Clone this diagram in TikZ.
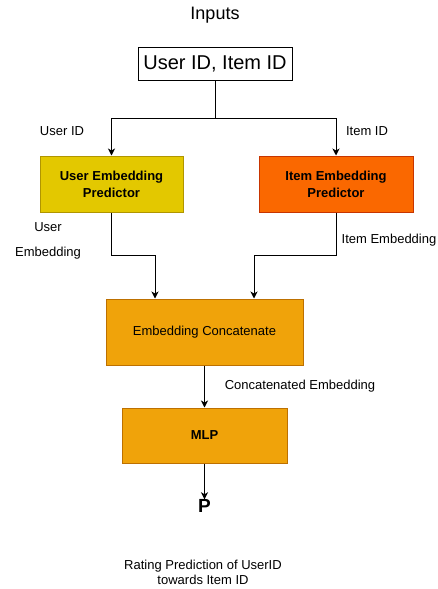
\documentclass[tikz,border=0pt]{standalone}
\usepackage{fontspec}
\setmainfont{Liberation Sans}
\usetikzlibrary{arrows.meta}
\usetikzlibrary{positioning}

\definecolor{userfill}{HTML}{E3C800}
\definecolor{userline}{HTML}{B09500}
\definecolor{itemfill}{HTML}{FA6800}
\definecolor{itemline}{HTML}{C73500}
\definecolor{mlpfill}{HTML}{F0A30A}
\definecolor{mlpline}{HTML}{BD7000}

\begin{document}
\begin{tikzpicture}[x=1pt,y=-1pt,
  box/.style={draw,line width=1pt,inner sep=0pt,align=center,font=\fontsize{13}{17}\selectfont\bfseries},
  lbl/.style={inner sep=0pt,align=center,font=\fontsize{13}{16}\selectfont},
  conn/.style={-{Stealth[length=7pt,width=7pt,inset=2pt]},line width=1pt}]
\useasboundingbox (0,0) rectangle (438,589);

\node[lbl,font=\fontsize{18}{20}\selectfont] (title) at (215,15) {Inputs};
\node[box,font=\fontsize{20}{22}\selectfont,minimum width=154pt,minimum height=33pt] (ids) at (215,63.5) {User ID, Item ID};

\node[box,fill=userfill,draw=userline,minimum width=143pt,minimum height=56pt] (userpred) at (111.5,184) {User Embedding\\Predictor};
\node[box,fill=itemfill,draw=itemline,minimum width=154pt,minimum height=56pt] (itempred) at (336,184) {Item Embedding\\Predictor};
\node[box,fill=mlpfill,draw=mlpline,font=\fontsize{13}{17}\selectfont,minimum width=197pt,minimum height=66pt] (concat) at (204.5,332) {Embedding Concatenate};
\node[box,fill=mlpfill,draw=mlpline,minimum width=165pt,minimum height=55pt] (mlp) at (204.5,435.5) {MLP};
\node[lbl,font=\fontsize{19}{20}\selectfont\bfseries] (P) at (204.5,506) {P};
\node[lbl,font=\fontsize{13}{15}\selectfont] (rating) at (203,572.5) {Rating Prediction of UserID\\towards Item ID};

% connectors
\coordinate (split) at (215,118);
\coordinate (ujoin) at (155,255);
\coordinate (ijoin) at (254,255);
\draw[line width=1pt] (ids.south) -- (split);
\draw[conn] (split) -| (userpred.north);
\draw[conn] (split) -| (itempred.north);
\draw[conn] (userpred.south) |- (ujoin) -- (ujoin |- concat.north);
\draw[conn] (itempred.south) |- (ijoin) -- (ijoin |- concat.north);
\draw[conn] (concat.south) -- (mlp.north);
\draw[conn] (mlp.south) -- (P.north);

% labels
\node[lbl] (uid) at (62,131) {User ID};
\node[lbl] (iid) at (367,131) {Item ID};
\node[lbl,font=\fontsize{13}{25}\selectfont] (uemb) at (48,240.5) {User\\Embedding};
\node[lbl] (iemb) at (389,240) {Item Embedding};
\node[lbl] (cemb) at (300,386) {Concatenated Embedding};

\end{tikzpicture}
\end{document}
